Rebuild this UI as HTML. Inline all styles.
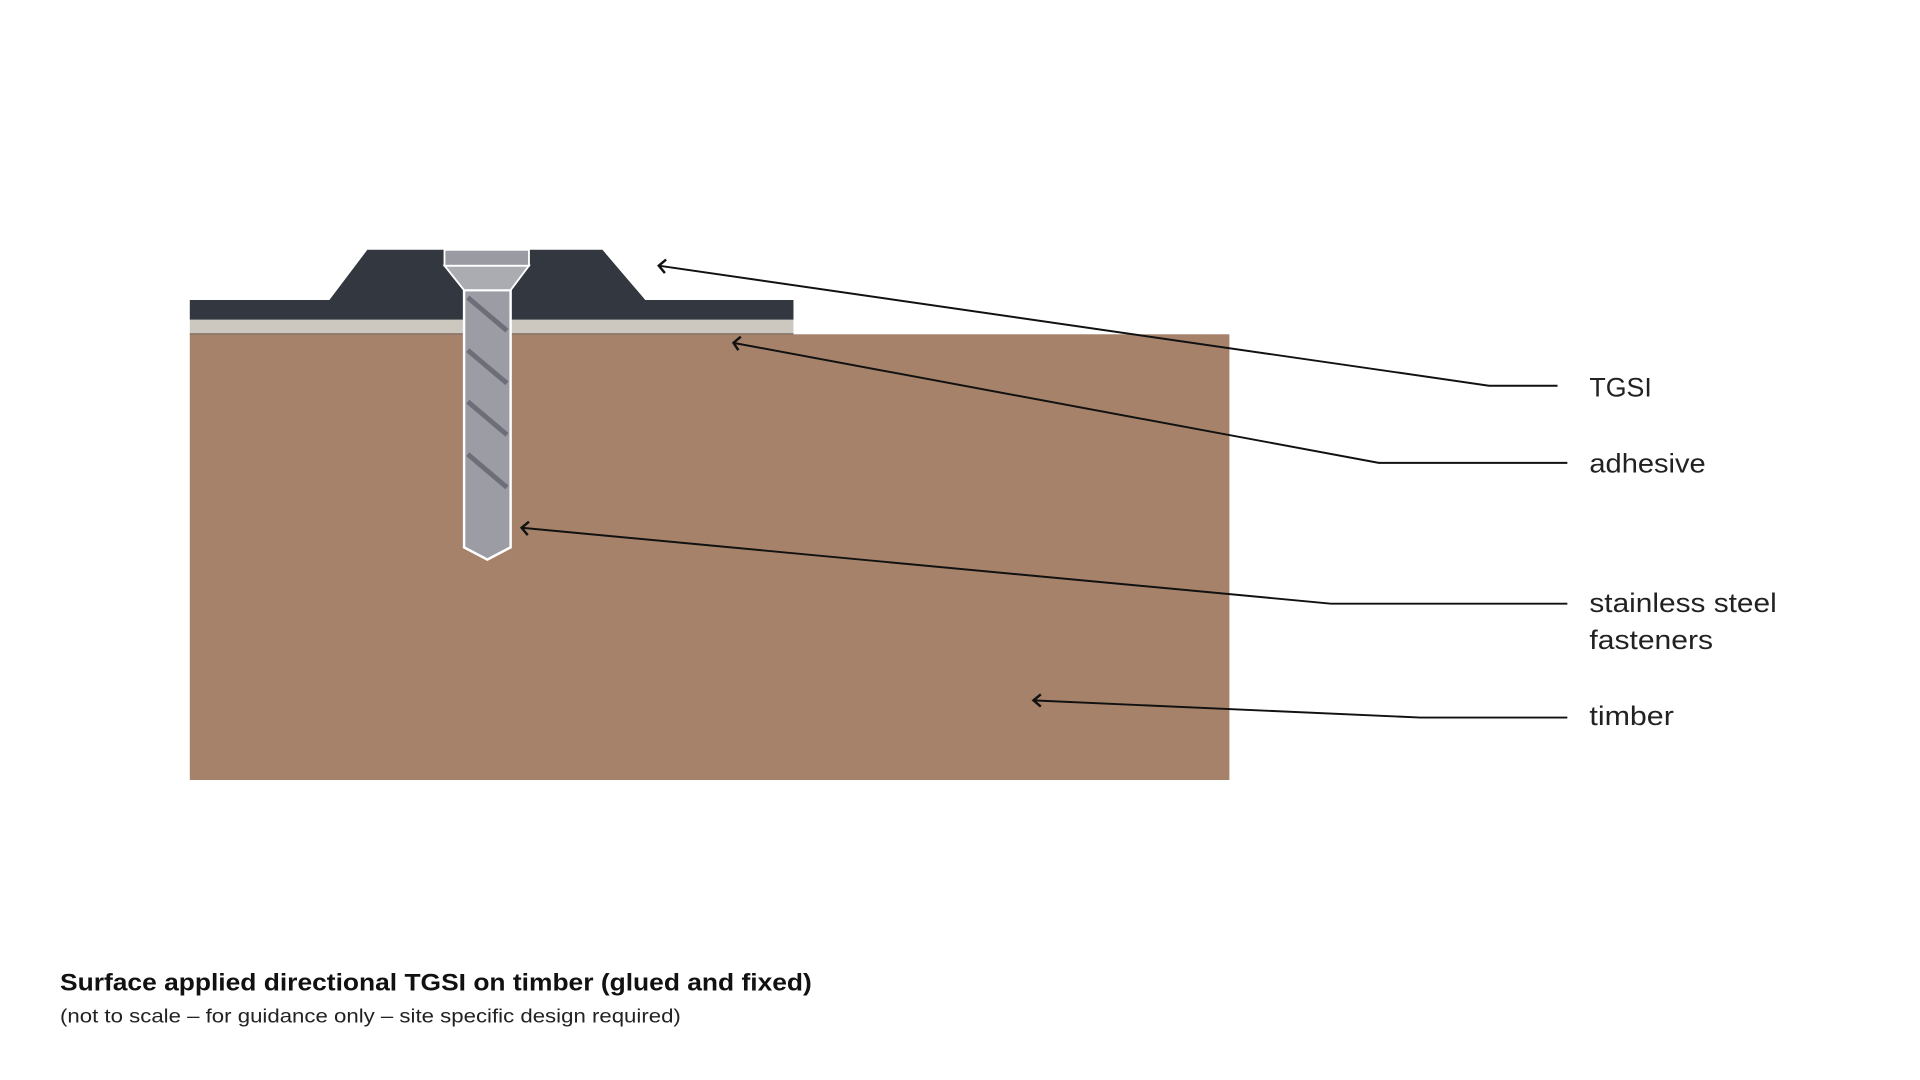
<!DOCTYPE html>
<html><head><meta charset="utf-8"><style>
html,body{margin:0;padding:0;background:#fff;width:1920px;height:1080px;overflow:hidden}
svg{display:block}
</style></head><body>
<svg width="1920" height="1080" viewBox="0 0 1568 882" xmlns="http://www.w3.org/2000/svg">
<rect width="1568" height="882" fill="#fff"/>
<rect x="155" y="273" width="849" height="364" fill="#a6826a"/>
<rect x="155" y="261" width="493" height="12" fill="#ccc8c0"/>
<rect x="155" y="272" width="493" height="1.5" fill="#8d7a6c"/>
<polygon points="155,245 269,245 300,204 492,204 527,245 648,245 648,261 155,261" fill="#333840"/>
<polygon points="379,237 417,237 417,447 398,457 379,447" fill="#9c9ca5" stroke="#fff" stroke-width="2"/>
<polygon points="363,217 432,217 417,237 379,237" fill="#abacb2" stroke="#fff" stroke-width="1.5"/>
<rect x="363" y="204" width="69" height="13" fill="#9a9aa3" stroke="#fff" stroke-width="1.5"/>
<g stroke="#6e6e78" stroke-width="4">
<line x1="382" y1="243" x2="414" y2="270"/>
<line x1="382" y1="286" x2="414" y2="313"/>
<line x1="382" y1="328" x2="414" y2="355"/>
<line x1="382" y1="371" x2="414" y2="398"/>
</g>
<g fill="none" stroke="#111" stroke-width="1.6">
<polyline points="538,217 1216,315 1272,315"/>
<polyline points="599,280 1126,378 1280,378"/>
<polyline points="426,431 1087,493 1280,493"/>
<polyline points="844,572 1160,586 1280,586"/>
<path d="M544,212 L538,217 L543,223" stroke-width="2"/>
<path d="M605,275 L599,280 L603,286" stroke-width="2"/>
<path d="M432,426 L426,431 L431,437" stroke-width="2"/>
<path d="M850,567 L844,572 L850,577" stroke-width="2"/>
</g>
<g font-family="Liberation Sans, sans-serif" font-size="22" fill="#222" lengthAdjust="spacingAndGlyphs">
<text x="1298" y="324" textLength="51" lengthAdjust="spacingAndGlyphs">TGSI</text>
<text x="1298" y="386" textLength="95" lengthAdjust="spacingAndGlyphs">adhesive</text>
<text x="1298" y="500" textLength="153" lengthAdjust="spacingAndGlyphs">stainless steel</text>
<text x="1298" y="530" textLength="101" lengthAdjust="spacingAndGlyphs">fasteners</text>
<text x="1298" y="592" textLength="69" lengthAdjust="spacingAndGlyphs">timber</text>
</g>
<text x="49" y="809" textLength="614" lengthAdjust="spacingAndGlyphs" font-family="Liberation Sans, sans-serif" font-size="20" font-weight="bold" fill="#111">Surface applied directional TGSI on timber (glued and fixed)</text>
<text x="49" y="835" textLength="507" lengthAdjust="spacingAndGlyphs" font-family="Liberation Sans, sans-serif" font-size="16" fill="#222">(not to scale – for guidance only – site specific design required)</text>
</svg>
</body></html>
